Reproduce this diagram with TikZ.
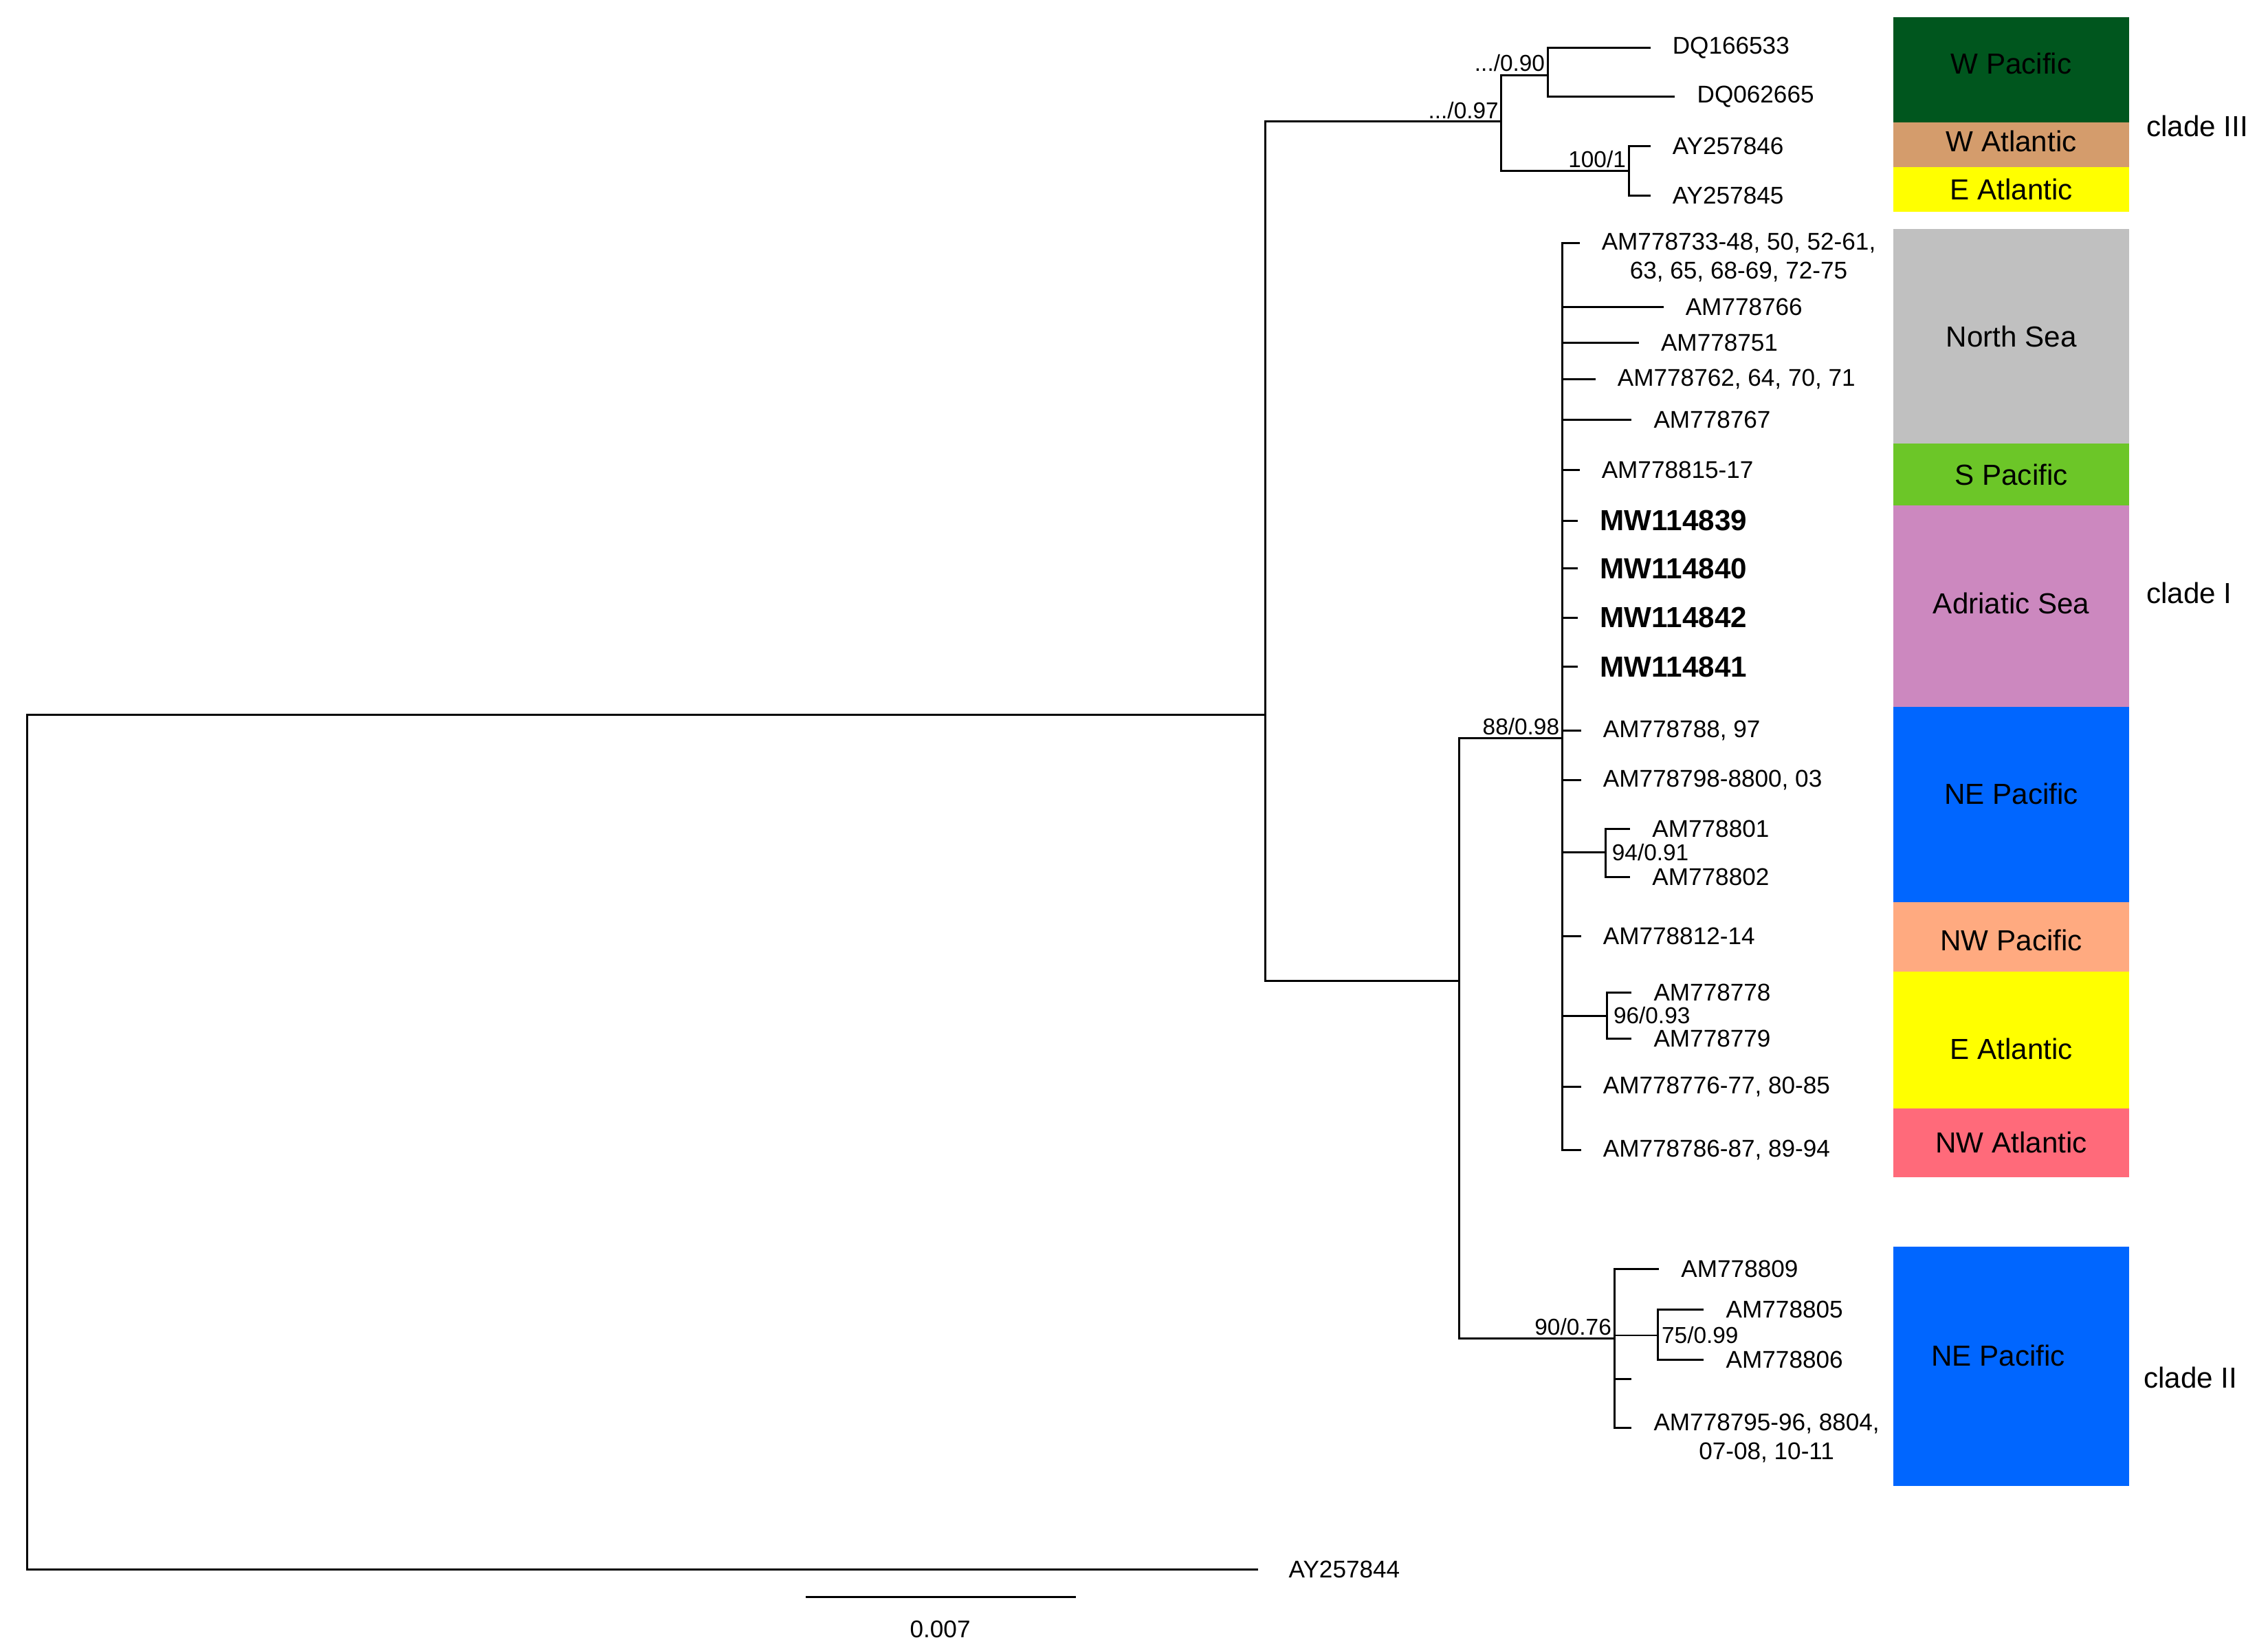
\documentclass[tikz,border=0pt]{standalone}
\usepackage{fontspec}
\setmainfont{Liberation Sans}
\usetikzlibrary{positioning,calc}
\definecolor{wpacific}{RGB}{0,86,30}
\definecolor{watlantic}{RGB}{212,156,108}
\definecolor{eatlantic}{RGB}{255,255,0}
\definecolor{northsea}{RGB}{192,192,192}
\definecolor{spacific}{RGB}{108,198,40}
\definecolor{adriatic}{RGB}{204,136,191}
\definecolor{nepacific}{RGB}{0,102,255}
\definecolor{nwpacific}{RGB}{255,170,128}
\definecolor{nwatlantic}{RGB}{255,106,122}

\begin{document}
\begin{tikzpicture}[
        x=0.2104mm, y=-0.2104mm,
        node distance=2.8mm,
        branch/.style={line width=0.85pt, black},
        leaf/.style={inner sep=1pt, font=\fontsize{10}{12}\selectfont},
        ownleaf/.style={leaf, font=\fontsize{12}{14}\selectfont\bfseries},
        support/.style={inner sep=1pt, font=\fontsize{9.5}{11}\selectfont},
        region/.style={rectangle, inner sep=0pt, minimum width=34.3mm},
        regiontext/.style={inner sep=0pt, font=\fontsize{12}{14}\selectfont},
        clade/.style={anchor=west, inner sep=1pt, font=\fontsize{12}{14}\selectfont}
    ]
    \useasboundingbox (0,0) rectangle (1568,1141);

    % internal nodes
    \coordinate (root) at (19,790);
    \coordinate (ingroup) at (875,494);
    \coordinate (c3) at (1038,84);
    \coordinate (c3a) at (1070,52);
    \coordinate (c3b) at (1126,118);
    \coordinate (c12) at (1009,678);
    \coordinate (c1) at (1080,510);
    \coordinate (c1a) at (1110,589);
    \coordinate (c1b) at (1111,702);
    \coordinate (c2) at (1116,925);
    \coordinate (c2a) at (1146,923);

    % tips
    \coordinate (e1) at (1141,33);
    \coordinate (e2) at (1158,67);
    \coordinate (e3) at (1141,101);
    \coordinate (e4) at (1141,135);
    \coordinate (e5) at (1092,168);
    \coordinate (e6) at (1150,212);
    \coordinate (e7) at (1133,237);
    \coordinate (e8) at (1103,262);
    \coordinate (e9) at (1128,290);
    \coordinate (e10) at (1092,325);
    \coordinate (e11) at (1091,360);
    \coordinate (e12) at (1091,393);
    \coordinate (e13) at (1091,427);
    \coordinate (e14) at (1091,461);
    \coordinate (e15) at (1093,505);
    \coordinate (e16) at (1093,539);
    \coordinate (e17) at (1127,573);
    \coordinate (e18) at (1127,606);
    \coordinate (e19) at (1093,647);
    \coordinate (e20) at (1128,686);
    \coordinate (e21) at (1128,718);
    \coordinate (e22) at (1093,751);
    \coordinate (e23) at (1093,795);
    \coordinate (e24) at (1147,877);
    \coordinate (e25) at (1178,905);
    \coordinate (e26) at (1178,940);
    \coordinate (e27) at (1128,953);
    \coordinate (e28) at (1128,987);
    \coordinate (e29) at (870,1085);

    % branches
    \draw[branch] (root) |- (ingroup);
    \draw[branch] (root) |- (e29);
    \draw[branch] (ingroup) |- (c3);
    \draw[branch] (ingroup) |- (c12);
    \draw[branch] (c3) |- (c3a);
    \draw[branch] (c3) |- (c3b);
    \draw[branch] (c3a) |- (e1);
    \draw[branch] (c3a) |- (e2);
    \draw[branch] (c3b) |- (e3);
    \draw[branch] (c3b) |- (e4);
    \draw[branch] (c12) |- (c1);
    \draw[branch] (c12) |- (c2);
    \draw[branch] (c1) |- (e5);
    \draw[branch] (c1) |- (e6);
    \draw[branch] (c1) |- (e7);
    \draw[branch] (c1) |- (e8);
    \draw[branch] (c1) |- (e9);
    \draw[branch] (c1) |- (e10);
    \draw[branch] (c1) |- (e11);
    \draw[branch] (c1) |- (e12);
    \draw[branch] (c1) |- (e13);
    \draw[branch] (c1) |- (e14);
    \draw[branch] (c1) |- (e15);
    \draw[branch] (c1) |- (e16);
    \draw[branch] (c1) |- (c1a);
    \draw[branch] (c1) |- (e19);
    \draw[branch] (c1) |- (c1b);
    \draw[branch] (c1) |- (e22);
    \draw[branch] (c1) |- (e23);
    \draw[branch] (c1a) |- (e17);
    \draw[branch] (c1a) |- (e18);
    \draw[branch] (c1b) |- (e20);
    \draw[branch] (c1b) |- (e21);
    \draw[branch] (c2) |- (e24);
    \draw[branch] (c2) |- (c2a);
    \draw[branch] (c2) |- (e27);
    \draw[branch] (c2) |- (e28);
    \draw[branch] (c2a) |- (e25);
    \draw[branch] (c2a) |- (e26);

    % tip labels
    \node[leaf, right=of e1] (l1) {DQ166533};
    \node[leaf, right=of e2] (l2) {DQ062665};
    \node[leaf, right=of e3] (l3) {AY257846};
    \node[leaf, right=of e4] (l4) {AY257845};
    \node[leaf, right=of e5, yshift=-2.1mm, align=center] (l5) {AM778733-48, 50, 52-61,\\63, 65, 68-69, 72-75};
    \node[leaf, right=of e6] (l6) {AM778766};
    \node[leaf, right=of e7] (l7) {AM778751};
    \node[leaf, right=of e8] (l8) {AM778762, 64, 70, 71};
    \node[leaf, right=of e9] (l9) {AM778767};
    \node[leaf, right=of e10] (l10) {AM778815-17};
    \node[ownleaf, right=of e11] (l11) {MW114839};
    \node[ownleaf, right=of e12] (l12) {MW114840};
    \node[ownleaf, right=of e13] (l13) {MW114842};
    \node[ownleaf, right=of e14] (l14) {MW114841};
    \node[leaf, right=of e15] (l15) {AM778788, 97};
    \node[leaf, right=of e16] (l16) {AM778798-8800, 03};
    \node[leaf, right=of e17] (l17) {AM778801};
    \node[leaf, right=of e18] (l18) {AM778802};
    \node[leaf, right=of e19] (l19) {AM778812-14};
    \node[leaf, right=of e20] (l20) {AM778778};
    \node[leaf, right=of e21] (l21) {AM778779};
    \node[leaf, right=of e22] (l22) {AM778776-77, 80-85};
    \node[leaf, right=of e23] (l23) {AM778786-87, 89-94};
    \node[leaf, right=of e24] (l24) {AM778809};
    \node[leaf, right=of e25] (l25) {AM778805};
    \node[leaf, right=of e26] (l26) {AM778806};
    \node[leaf, right=of e28, yshift=-1.5mm, align=center] (l28) {AM778795-96, 8804,\\07-08, 10-11};
    \node[leaf, right=4mm of e29] (l29) {AY257844};

    % support values
    \node[support, anchor=south east] (s3) at (c3) {.../0.97};
    \node[support, anchor=south east, yshift=0.5pt] (s3a) at (c3a) {.../0.90};
    \node[support, anchor=south east] (s3b) at (c3b) {100/1};
    \node[support, anchor=south east] (s1) at (c1) {88/0.98};
    \node[support, anchor=west, xshift=1.5pt] (s1a) at (c1a) {94/0.91};
    \node[support, anchor=west, xshift=1.5pt] (s1b) at (c1b) {96/0.93};
    \node[support, anchor=south east] (s2) at (c2) {90/0.76};
    \node[support, anchor=west, xshift=0.5pt] (s2a) at (c2a) {75/0.99};

    % regions
    \node[region, fill=wpacific, minimum height=15.25mm,
        label={[regiontext, yshift=0.9mm]center:W Pacific}] (rwpac) at (1390.5,48.25) {};
    \node[region, fill=watlantic, minimum height=6.5mm,
        label={[regiontext, yshift=0.5mm]center:W Atlantic}] (rwatl) at (1390.5,100) {};
    \node[region, fill=eatlantic, minimum height=6.48mm,
        label={[regiontext]center:E Atlantic}] (reatl) at (1390.5,130.8) {};
    \node[region, fill=northsea, minimum height=31.2mm,
        label={[regiontext]center:North Sea}] (rnsea) at (1390.5,232.45) {};
    \node[region, fill=spacific, minimum height=8.98mm,
        label={[regiontext]center:S Pacific}] (rspac) at (1390.5,327.95) {};
    \node[region, fill=adriatic, minimum height=29.29mm,
        label={[regiontext, yshift=0.4mm]center:Adriatic Sea}] (radri) at (1390.5,418.9) {};
    \node[region, fill=nepacific, minimum height=28.4mm,
        label={[regiontext, yshift=1.5mm]center:NE Pacific}] (rnepac) at (1390.5,556) {};
    \node[region, fill=nwpacific, minimum height=10.1mm,
        label={[regiontext, yshift=-0.5mm]center:NW Pacific}] (rnwpac) at (1390.5,647.5) {};
    \node[region, fill=eatlantic, minimum height=19.88mm,
        label={[regiontext, yshift=-1.3mm]center:E Atlantic}] (reatlb) at (1390.5,718.75) {};
    \node[region, fill=nwatlantic, minimum height=10.0mm,
        label={[regiontext]center:NW Atlantic}] (rnwatl) at (1390.5,789.8) {};
    \node[region, fill=nepacific, minimum height=34.78mm,
        label={[regiontext, xshift=-1.9mm, yshift=1.5mm]center:NE Pacific}] (rnepacb) at (1390.5,944.35) {};

    \node[clade] (cladeIII) at (1482,87) {clade III};
    \node[clade] (cladeI) at (1482,410) {clade I};
    \node[clade] (cladeII) at (1480,952) {clade II};

    % scale bar
    \coordinate (sbl) at (557,1104);
    \coordinate (sbr) at (744,1104);
    \draw[branch] (sbl) -- (sbr);
    \node[leaf] (sblab) at (650,1126) {0.007};

\end{tikzpicture}
\end{document}
